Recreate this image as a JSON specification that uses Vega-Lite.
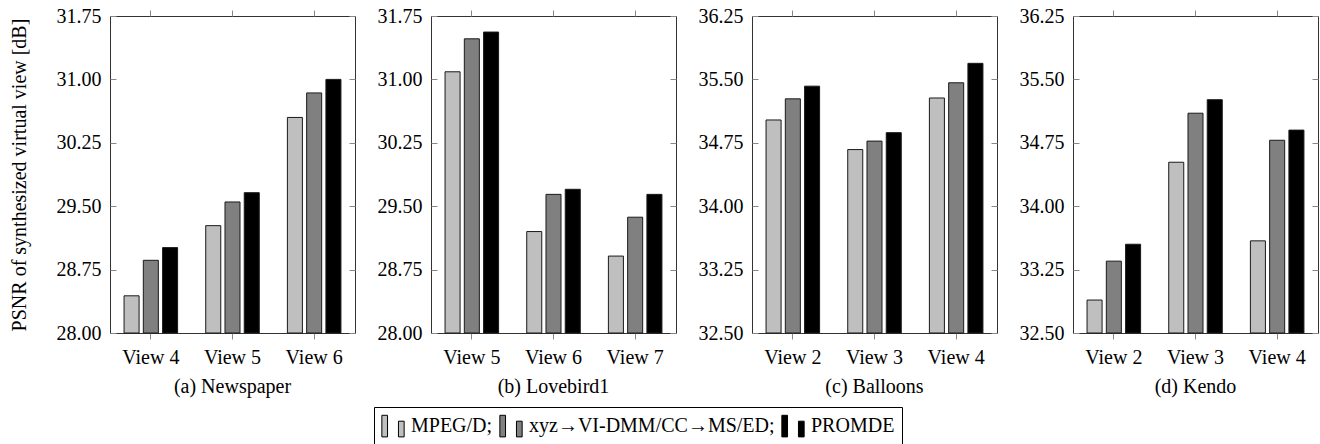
{
  "$schema": "https://vega.github.io/schema/vega-lite/v6.json",
  "padding": {"left": 8, "top": 5, "right": 0, "bottom": 2},
  "background": "white",
  "data": {"values": [
    {"set": "a", "view": "View 4", "method": "MPEG/D", "psnr": 28.44},
    {"set": "a", "view": "View 4", "method": "xyz→VI-DMM/CC→MS/ED", "psnr": 28.86},
    {"set": "a", "view": "View 4", "method": "PROMDE", "psnr": 29.01},
    {"set": "a", "view": "View 5", "method": "MPEG/D", "psnr": 29.27},
    {"set": "a", "view": "View 5", "method": "xyz→VI-DMM/CC→MS/ED", "psnr": 29.55},
    {"set": "a", "view": "View 5", "method": "PROMDE", "psnr": 29.66},
    {"set": "a", "view": "View 6", "method": "MPEG/D", "psnr": 30.55},
    {"set": "a", "view": "View 6", "method": "xyz→VI-DMM/CC→MS/ED", "psnr": 30.84},
    {"set": "a", "view": "View 6", "method": "PROMDE", "psnr": 31.0},
    {"set": "b", "view": "View 5", "method": "MPEG/D", "psnr": 31.09},
    {"set": "b", "view": "View 5", "method": "xyz→VI-DMM/CC→MS/ED", "psnr": 31.48},
    {"set": "b", "view": "View 5", "method": "PROMDE", "psnr": 31.56},
    {"set": "b", "view": "View 6", "method": "MPEG/D", "psnr": 29.2},
    {"set": "b", "view": "View 6", "method": "xyz→VI-DMM/CC→MS/ED", "psnr": 29.64},
    {"set": "b", "view": "View 6", "method": "PROMDE", "psnr": 29.7},
    {"set": "b", "view": "View 7", "method": "MPEG/D", "psnr": 28.91},
    {"set": "b", "view": "View 7", "method": "xyz→VI-DMM/CC→MS/ED", "psnr": 29.37},
    {"set": "b", "view": "View 7", "method": "PROMDE", "psnr": 29.64},
    {"set": "c", "view": "View 2", "method": "MPEG/D", "psnr": 35.02},
    {"set": "c", "view": "View 2", "method": "xyz→VI-DMM/CC→MS/ED", "psnr": 35.27},
    {"set": "c", "view": "View 2", "method": "PROMDE", "psnr": 35.42},
    {"set": "c", "view": "View 3", "method": "MPEG/D", "psnr": 34.67},
    {"set": "c", "view": "View 3", "method": "xyz→VI-DMM/CC→MS/ED", "psnr": 34.77},
    {"set": "c", "view": "View 3", "method": "PROMDE", "psnr": 34.87},
    {"set": "c", "view": "View 4", "method": "MPEG/D", "psnr": 35.28},
    {"set": "c", "view": "View 4", "method": "xyz→VI-DMM/CC→MS/ED", "psnr": 35.46},
    {"set": "c", "view": "View 4", "method": "PROMDE", "psnr": 35.69},
    {"set": "d", "view": "View 2", "method": "MPEG/D", "psnr": 32.89},
    {"set": "d", "view": "View 2", "method": "xyz→VI-DMM/CC→MS/ED", "psnr": 33.35},
    {"set": "d", "view": "View 2", "method": "PROMDE", "psnr": 33.55},
    {"set": "d", "view": "View 3", "method": "MPEG/D", "psnr": 34.52},
    {"set": "d", "view": "View 3", "method": "xyz→VI-DMM/CC→MS/ED", "psnr": 35.1},
    {"set": "d", "view": "View 3", "method": "PROMDE", "psnr": 35.26},
    {"set": "d", "view": "View 4", "method": "MPEG/D", "psnr": 33.59},
    {"set": "d", "view": "View 4", "method": "xyz→VI-DMM/CC→MS/ED", "psnr": 34.78},
    {"set": "d", "view": "View 4", "method": "PROMDE", "psnr": 34.9}
  ]},
  "config": {
    "font": "Liberation Serif",
    "view": {"stroke": "#333333", "strokeWidth": 1},
    "axis": {"domain": false, "grid": false, "labelFont": "Liberation Serif", "labelFontSize": 20, "labelColor": "#000", "titleFont": "Liberation Serif", "titleFontSize": 20, "titleFontWeight": "normal", "titleColor": "#000", "tickColor": "#888888", "tickWidth": 1},
    "title": {"font": "Liberation Serif", "fontSize": 20, "fontWeight": "normal", "color": "#000"},
    "bar": {"stroke": "#1a1a1a", "strokeWidth": 1}
  },
  "spacing": 76,
  "bounds": "flush",
  "hconcat": [
    {
      "width": 245, "height": 317,
      "title": {"text": "(a) Newspaper", "orient": "bottom", "offset": 10},
      "transform": [{"filter": "datum.set === 'a'"}],
      "layer": [
        {"mark": "bar", "encoding": {
          "x": {"field": "view", "type": "nominal", "scale": {"paddingInner": 0, "paddingOuter": 0}, "axis": {"orient": "bottom", "title": null, "labelAngle": 0, "tickSize": 6, "labelPadding": 8}},
          "xOffset": {"field": "method", "sort": ["MPEG/D", "xyz→VI-DMM/CC→MS/ED", "PROMDE"], "scale": {"paddingInner": 0.22, "paddingOuter": 0.73}},
          "y": {"field": "psnr", "type": "quantitative", "scale": {"domain": [28, 31.75], "zero": false, "nice": false, "clamp": true}, "axis": {"values": [28, 28.75, 29.5, 30.25, 31, 31.75], "format": ".2f", "tickSize": -6, "labelPadding": 15, "title": "PSNR of synthesized virtual view [dB]", "titlePadding": 27}},
          "color": {"field": "method", "type": "nominal", "sort": ["MPEG/D", "xyz→VI-DMM/CC→MS/ED", "PROMDE"], "scale": {"domain": ["MPEG/D", "xyz→VI-DMM/CC→MS/ED", "PROMDE"], "range": ["#bfbfbf", "#808080", "#000000"]},
            "legend": {"title": null, "orient": "none", "direction": "horizontal", "legendX": 264, "legendY": 391, "strokeColor": "#000", "padding": 7, "labelFont": "Liberation Serif", "labelFontSize": 20, "labelColor": "#000", "labelLimit": 500, "symbolType": "M-1,-0.97H-0.49V0.97H-1Z M0.49,-0.44H1V0.97H0.49Z", "symbolSize": 497, "symbolStrokeColor": "#000", "symbolStrokeWidth": 1, "symbolOpacity": 1, "columnPadding": 4, "labelOffset": 6, "labelExpr": "datum.label === 'PROMDE' ? datum.label : datum.label + ';'"}}
        }},
        {"mark": {"type": "bar", "opacity": 0, "strokeOpacity": 0}, "encoding": {
          "x": {"field": "view", "type": "nominal", "axis": {"orient": "top", "title": null, "labels": false, "tickSize": 6}},
          "xOffset": {"field": "method", "sort": ["MPEG/D", "xyz→VI-DMM/CC→MS/ED", "PROMDE"]},
          "y": {"field": "psnr", "type": "quantitative", "axis": {"orient": "right", "title": null, "labels": false, "values": [28, 28.75, 29.5, 30.25, 31, 31.75], "tickSize": -6}}
        }}
      ],
      "resolve": {"axis": {"x": "independent", "y": "independent"}}
    },
    {
      "width": 245, "height": 317,
      "title": {"text": "(b) Lovebird1", "orient": "bottom", "offset": 10},
      "transform": [{"filter": "datum.set === 'b'"}],
      "layer": [
        {"mark": "bar", "encoding": {
          "x": {"field": "view", "type": "nominal", "scale": {"paddingInner": 0, "paddingOuter": 0}, "axis": {"orient": "bottom", "title": null, "labelAngle": 0, "tickSize": 6, "labelPadding": 8}},
          "xOffset": {"field": "method", "sort": ["MPEG/D", "xyz→VI-DMM/CC→MS/ED", "PROMDE"], "scale": {"paddingInner": 0.22, "paddingOuter": 0.73}},
          "y": {"field": "psnr", "type": "quantitative", "scale": {"domain": [28, 31.75], "zero": false, "nice": false, "clamp": true}, "axis": {"values": [28, 28.75, 29.5, 30.25, 31, 31.75], "format": ".2f", "tickSize": -6, "labelPadding": 15, "title": null}},
          "color": {"field": "method", "type": "nominal", "sort": ["MPEG/D", "xyz→VI-DMM/CC→MS/ED", "PROMDE"]}
        }},
        {"mark": {"type": "bar", "opacity": 0, "strokeOpacity": 0}, "encoding": {
          "x": {"field": "view", "type": "nominal", "axis": {"orient": "top", "title": null, "labels": false, "tickSize": 6}},
          "xOffset": {"field": "method", "sort": ["MPEG/D", "xyz→VI-DMM/CC→MS/ED", "PROMDE"]},
          "y": {"field": "psnr", "type": "quantitative", "axis": {"orient": "right", "title": null, "labels": false, "values": [28, 28.75, 29.5, 30.25, 31, 31.75], "tickSize": -6}}
        }}
      ],
      "resolve": {"axis": {"x": "independent", "y": "independent"}}
    },
    {
      "width": 245, "height": 317,
      "title": {"text": "(c) Balloons", "orient": "bottom", "offset": 10},
      "transform": [{"filter": "datum.set === 'c'"}],
      "layer": [
        {"mark": "bar", "encoding": {
          "x": {"field": "view", "type": "nominal", "scale": {"paddingInner": 0, "paddingOuter": 0}, "axis": {"orient": "bottom", "title": null, "labelAngle": 0, "tickSize": 6, "labelPadding": 8}},
          "xOffset": {"field": "method", "sort": ["MPEG/D", "xyz→VI-DMM/CC→MS/ED", "PROMDE"], "scale": {"paddingInner": 0.22, "paddingOuter": 0.73}},
          "y": {"field": "psnr", "type": "quantitative", "scale": {"domain": [32.5, 36.25], "zero": false, "nice": false, "clamp": true}, "axis": {"values": [32.5, 33.25, 34, 34.75, 35.5, 36.25], "format": ".2f", "tickSize": -6, "labelPadding": 15, "title": null}},
          "color": {"field": "method", "type": "nominal", "sort": ["MPEG/D", "xyz→VI-DMM/CC→MS/ED", "PROMDE"]}
        }},
        {"mark": {"type": "bar", "opacity": 0, "strokeOpacity": 0}, "encoding": {
          "x": {"field": "view", "type": "nominal", "axis": {"orient": "top", "title": null, "labels": false, "tickSize": 6}},
          "xOffset": {"field": "method", "sort": ["MPEG/D", "xyz→VI-DMM/CC→MS/ED", "PROMDE"]},
          "y": {"field": "psnr", "type": "quantitative", "axis": {"orient": "right", "title": null, "labels": false, "values": [32.5, 33.25, 34, 34.75, 35.5, 36.25], "tickSize": -6}}
        }}
      ],
      "resolve": {"axis": {"x": "independent", "y": "independent"}}
    },
    {
      "width": 245, "height": 317,
      "title": {"text": "(d) Kendo", "orient": "bottom", "offset": 10},
      "transform": [{"filter": "datum.set === 'd'"}],
      "layer": [
        {"mark": "bar", "encoding": {
          "x": {"field": "view", "type": "nominal", "scale": {"paddingInner": 0, "paddingOuter": 0}, "axis": {"orient": "bottom", "title": null, "labelAngle": 0, "tickSize": 6, "labelPadding": 8}},
          "xOffset": {"field": "method", "sort": ["MPEG/D", "xyz→VI-DMM/CC→MS/ED", "PROMDE"], "scale": {"paddingInner": 0.22, "paddingOuter": 0.73}},
          "y": {"field": "psnr", "type": "quantitative", "scale": {"domain": [32.5, 36.25], "zero": false, "nice": false, "clamp": true}, "axis": {"values": [32.5, 33.25, 34, 34.75, 35.5, 36.25], "format": ".2f", "tickSize": -6, "labelPadding": 15, "title": null}},
          "color": {"field": "method", "type": "nominal", "sort": ["MPEG/D", "xyz→VI-DMM/CC→MS/ED", "PROMDE"]}
        }},
        {"mark": {"type": "bar", "opacity": 0, "strokeOpacity": 0}, "encoding": {
          "x": {"field": "view", "type": "nominal", "axis": {"orient": "top", "title": null, "labels": false, "tickSize": 6}},
          "xOffset": {"field": "method", "sort": ["MPEG/D", "xyz→VI-DMM/CC→MS/ED", "PROMDE"]},
          "y": {"field": "psnr", "type": "quantitative", "axis": {"orient": "right", "title": null, "labels": false, "values": [32.5, 33.25, 34, 34.75, 35.5, 36.25], "tickSize": -6}}
        }}
      ],
      "resolve": {"axis": {"x": "independent", "y": "independent"}}
    }
  ]
}
